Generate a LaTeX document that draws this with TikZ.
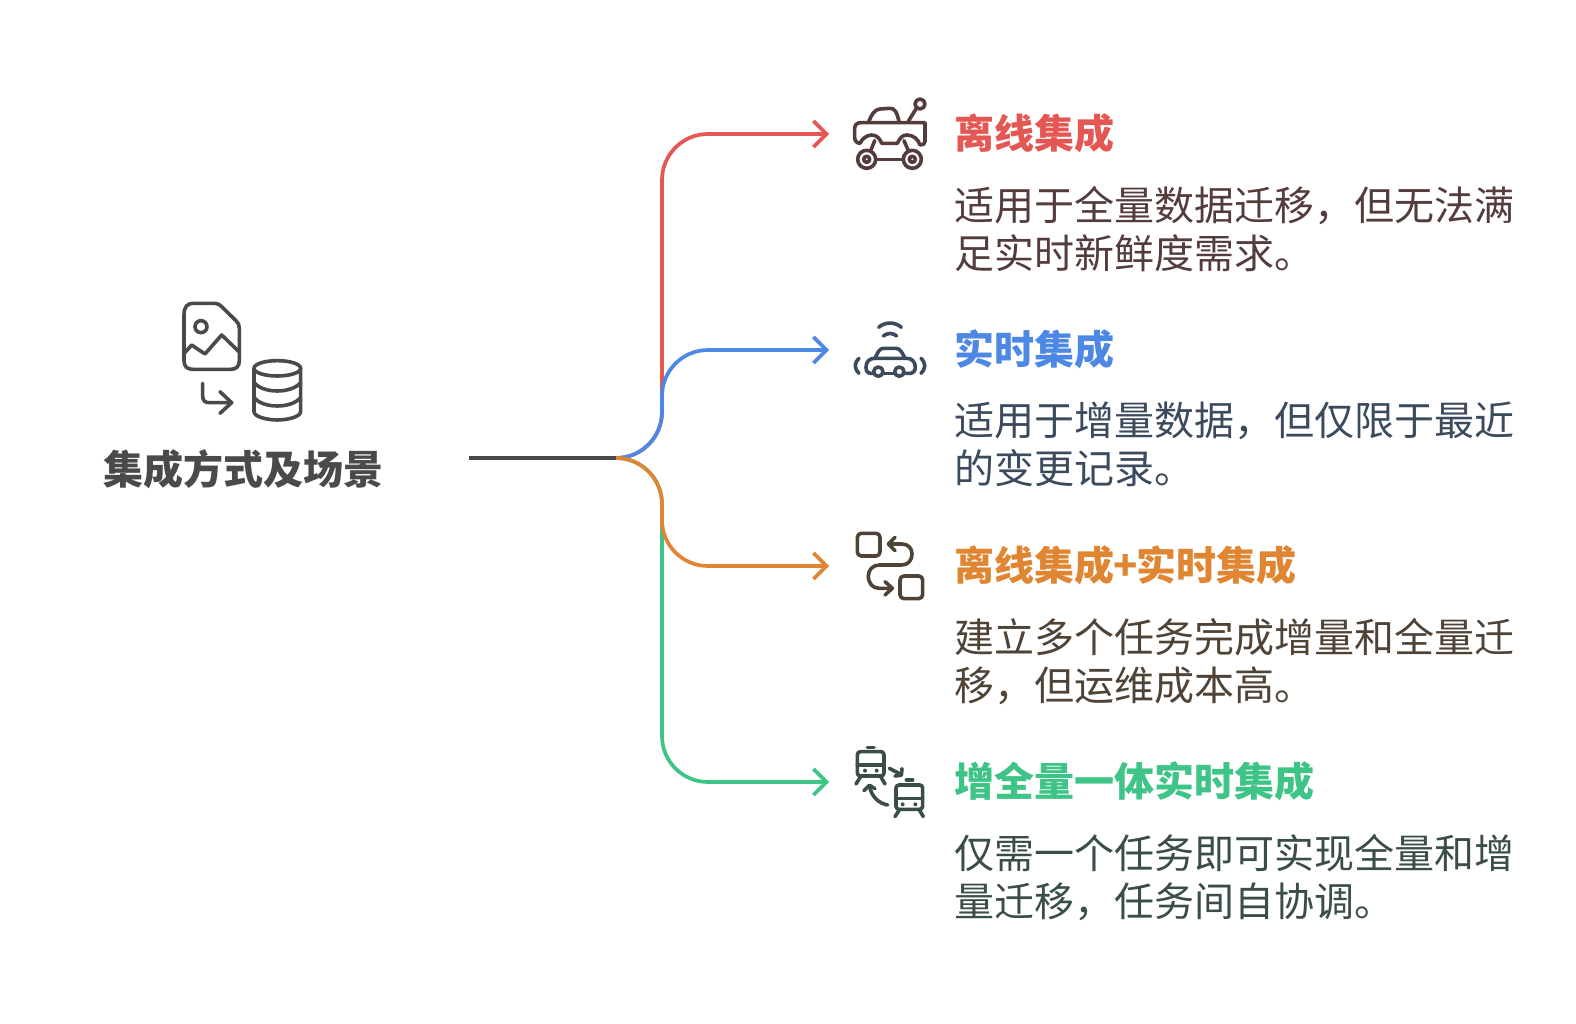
\documentclass[tikz,border=0pt]{standalone}
\usepackage{fontspec}
\usepackage{xcolor}
\usetikzlibrary{arrows.meta}
\setmainfont{Noto Sans CJK SC}
\definecolor{redline}{HTML}{E55753}
\definecolor{blueline}{HTML}{4E88E5}
\definecolor{orangeline}{HTML}{E08532}
\definecolor{greenline}{HTML}{3DC486}
\definecolor{redtext}{HTML}{553C3C}
\definecolor{bluetext}{HTML}{3B4A5C}
\definecolor{orangetext}{HTML}{4F4237}
\definecolor{greentext}{HTML}{3A4D46}
\definecolor{roottext}{HTML}{4A4A4A}

\begin{document}
\begin{tikzpicture}[x=1pt,y=-1pt]
        \tikzstyle{every node}+=[inner sep=0pt]
        \tikzstyle{branch}=[line width=3.7pt,rounded corners=46pt,-{Straight Barb[length=13pt,width=26pt,line width=3.7pt]}]
        \tikzstyle{heading}=[anchor=west,font=\fontsize{40}{48}\selectfont\bfseries]
        \tikzstyle{detail}=[anchor=north west,align=left,font=\fontsize{40}{48}\selectfont]
        \tikzstyle{icon}=[line width=3.6pt,line cap=round,line join=round]
        \useasboundingbox (0,0) rectangle (1576,1024);
        \fill [white] (0,0) rectangle (1576,1024);

        \node [font=\fontsize{40}{48}\selectfont\bfseries,text=roottext] (root) at (243,469) {集成方式及场景};

        \node [heading,text=redline] (offline) at (954,133) {离线集成};
        \node [detail,text=redtext] (offlinetext) at (954,186) {适用于全量数据迁移，但无法满\\足实时新鲜度需求。};
        \node [heading,text=blueline] (realtime) at (954,349) {实时集成};
        \node [detail,text=bluetext] (realtimetext) at (954,402) {适用于增量数据，但仅限于最近\\的变更记录。};
        \node [heading,text=orangeline] (both) at (954,565) {离线集成\kern-1pt+\kern-1pt实时集成};
        \node [detail,text=orangetext] (bothtext) at (954,618) {建立多个任务完成增量和全量迁\\移，但运维成本高。};
        \node [heading,text=greenline] (unified) at (954,781) {增全量一体实时集成};
        \node [detail,text=greentext] (unifiedtext) at (954,834) {仅需一个任务即可实现全量和增\\量迁移，任务间自协调。};

        \coordinate (start) at (469,458);
        \coordinate (hub) at (616,458);
        \coordinate (spinea) at (662,134);
        \coordinate (spineb) at (662,350);
        \coordinate (spinec) at (662,566);
        \coordinate (spined) at (662,782);
        \coordinate (tipa) at (829,134);
        \coordinate (tipb) at (829,350);
        \coordinate (tipc) at (829,566);
        \coordinate (tipd) at (829,782);

        \draw [branch,redline] (hub) -| (spinea) -- (tipa);
        \draw [branch,greenline] (hub) -| (spined) -- (tipd);
        \draw [line width=3.7pt,roottext] (start) -- (hub);
        \draw [branch,blueline] (hub) -| (spineb) -- (tipb);
        \draw [branch,orangeline] (hub) -| (spinec) -- (tipc);

        % root icon
        \begin{scope}[shift={(90,290)},scale=0.3333,icon,roottext]
        \draw (282,75) .. controls (282,50) and (292,40) .. (310,40) -- (375,40) .. controls (385,40) and (390,45) .. (395,50) -- (438,92) .. controls (445,99) and (448,105) .. (448,115) -- (448,212) .. controls (448,230) and (438,238) .. (422,238) -- (308,238) .. controls (292,238) and (282,230) .. (282,212) -- cycle;
        \draw (283,190) -- (305,165) -- (345,192) -- (395,135) -- (447,185);
        \draw (333,110) circle (18);
        \draw (338,280) -- (338,318) .. controls (338,332) and (345,338) .. (358,338) -- (425,338);
        \draw (390,305) -- (425,338) -- (390,370);
        \draw (562,235) ellipse (70 and 23);
        \draw (492,235) -- (492,365) .. controls (492,380) and (530,390) .. (562,390) .. controls (594,390) and (632,380) .. (632,365) -- (632,235);
        \draw (492,277) .. controls (505,295) and (535,303) .. (562,303) .. controls (589,303) and (619,295) .. (632,277);
        \draw (492,322) .. controls (505,340) and (535,348) .. (562,348) .. controls (589,348) and (619,340) .. (632,322);
        \end{scope}

        % truck and car icons
        \begin{scope}[shift={(840,90)},scale=0.3333,icon,redtext]
        \draw (240,42) circle (15);
        \draw (229,55) -- (205,94);
        \draw (85,98) .. controls (95,72) and (105,58) .. (120,57) -- (150,55) .. controls (165,55) and (170,65) .. (178,98);
        \draw (62,98) -- (255,98) -- (255,155) .. controls (255,163) and (248,165) .. (240,165) .. controls (235,148) and (220,135) .. (200,135) .. controls (185,135) and (178,148) .. (172,160) -- (125,160) .. controls (120,148) and (112,135) .. (95,135) .. controls (80,135) and (65,148) .. (60,160) .. controls (50,160) and (44,152) .. (44,142) -- (44,115) .. controls (44,104) and (52,98) .. (62,98);
        \draw (80,208) circle (27);
        \draw (80,208) circle (9);
        \draw (217,208) circle (27);
        \draw (217,208) circle (9);
        \draw (107,208) -- (190,208);
        \draw (104,152) -- (92,182);
        \draw (192,152) -- (205,182);
        \end{scope}
        \begin{scope}[shift={(840,90)},scale=0.3333,icon,bluetext]
        \draw (116,712) .. controls (135,695) and (165,695) .. (184,712);
        \draw (130,738) .. controls (142,728) and (158,728) .. (170,738);
        \draw (105,805) .. controls (112,790) and (118,775) .. (130,775) -- (168,775) .. controls (180,775) and (188,790) .. (195,805);
        \draw (100,850) -- (92,850) .. controls (82,850) and (78,842) .. (78,832) .. controls (78,815) and (88,805) .. (105,805) -- (200,805) .. controls (215,805) and (226,815) .. (226,832) .. controls (226,842) and (220,850) .. (210,850) -- (193,850);
        \draw (115,845) circle (14);
        \draw (178,845) circle (14);
        \draw (130,850) -- (163,850);
        \draw (57,805) .. controls (42,820) and (42,835) .. (57,850);
        \draw (243,805) .. controls (258,820) and (258,835) .. (243,850);
        \end{scope}

        % swap and train icons
        \begin{scope}[shift={(840,520)},scale=0.3333,icon,orangetext]
        \draw [rounded corners=4pt] (52,40) rectangle (120,108);
        \draw [rounded corners=4pt] (180,168) rectangle (248,236);
        \draw (165,52) -- (145,72) -- (165,92);
        \draw (145,72) -- (185,72) .. controls (205,72) and (216,85) .. (216,102) .. controls (216,120) and (205,135) .. (185,135) -- (118,135) .. controls (98,135) and (85,150) .. (85,168) .. controls (85,190) and (98,205) .. (118,205) -- (157,205);
        \draw (135,185) -- (157,205) -- (135,225);
        \end{scope}
        \begin{scope}[shift={(840,520)},scale=0.3333,icon,greentext]
        \draw [rounded corners=3pt] (52,695) rectangle (132,768);
        \draw (52,735) -- (132,735);
        \fill (75,752) circle (6);
        \fill (110,752) circle (6);
        \draw (82,682) -- (102,682);
        \draw (62,770) -- (48,792);
        \draw (122,770) -- (135,792);
        \draw [rounded corners=3pt] (168,795) rectangle (248,868);
        \draw (168,835) -- (248,835);
        \fill (188,853) circle (6);
        \fill (226,853) circle (6);
        \draw (199,780) -- (218,780);
        \draw (178,870) -- (165,890);
        \draw (238,870) -- (250,890);
        \draw (148,745) -- (184,764);
        \draw (186,746) -- (184,766) -- (165,768);
        \draw (143,855) .. controls (115,850) and (95,830) .. (88,798);
        \draw (72,812) -- (88,796) -- (105,806);
        \end{scope}
        \end{tikzpicture}
\end{document}
